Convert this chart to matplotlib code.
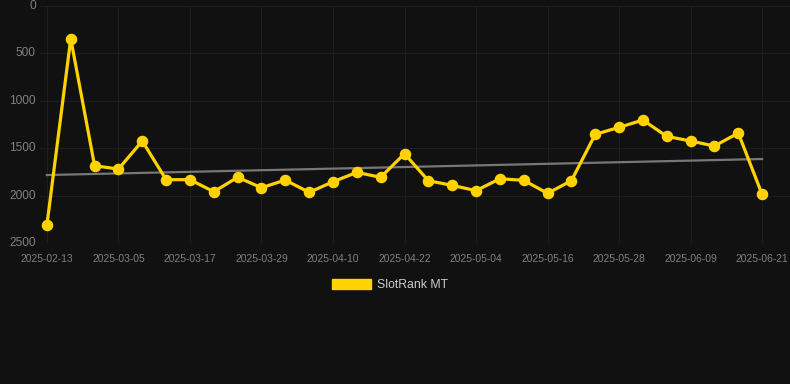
import numpy as np
import matplotlib
matplotlib.use("Agg")
import matplotlib.pyplot as plt
from matplotlib.patches import Patch

plt.rcParams["font.family"] = ["Liberation Sans", "DejaVu Sans"]

# Dates (category axis) and rank values
dates = ["2025-02-13", "2025-02-20", "2025-02-27", "2025-03-05", "2025-03-09",
         "2025-03-13", "2025-03-17", "2025-03-21", "2025-03-25", "2025-03-29",
         "2025-04-02", "2025-04-06", "2025-04-10", "2025-04-14", "2025-04-18",
         "2025-04-22", "2025-04-26", "2025-04-30", "2025-05-04", "2025-05-08",
         "2025-05-12", "2025-05-16", "2025-05-20", "2025-05-24", "2025-05-28",
         "2025-06-01", "2025-06-05", "2025-06-09", "2025-06-13", "2025-06-17",
         "2025-06-21"]
rank = [2310, 345, 1685, 1720, 1424, 1832, 1832, 1959, 1807, 1917,
        1836, 1966, 1854, 1755, 1807, 1558, 1843, 1892, 1948, 1822,
        1839, 1976, 1843, 1354, 1280, 1203, 1375, 1424, 1477, 1340,
        1987]
trend = [1783, 1614]  # trend line value at first and last date
series_name = "SlotRank MT"

BG = "#111111"
GOLD = "#FFD200"

fig = plt.figure(figsize=(7.9, 3.84), dpi=100, facecolor=BG)
ax = fig.add_axes([40 / 790, 1 - 243 / 384, 750 / 790, 237 / 384], facecolor=BG)

x = np.arange(len(rank))
ax.plot([x[0], x[-1]], trend, color="#777777", lw=1.6, zorder=2)
ax.plot(x, rank, color=GOLD, lw=2.3, marker="o", ms=7.3,
        solid_joinstyle="miter", zorder=3)

ax.set_ylim(2500, 0)
ax.set_xlim(-0.29, 31.17)
ax.set_yticks([0, 500, 1000, 1500, 2000, 2500])
ax.set_xticks(x[::3])
ax.set_xticklabels(dates[::3])

ax.grid(True, color="#1e1e1e", lw=0.8)
for s in ax.spines.values():
    s.set_visible(False)
ax.tick_params(axis="both", length=0, colors="#808080")
ax.tick_params(axis="y", labelsize=8.6, pad=3)
ax.tick_params(axis="x", labelsize=7.4, pad=8)
for lab in ax.get_yticklabels():
    lab.set_verticalalignment("center")

handle = Patch(facecolor=GOLD, edgecolor=GOLD)
leg = fig.legend([handle], [series_name], loc="center",
                 bbox_to_anchor=(390 / 790, 1 - 285 / 384),
                 frameon=False, fontsize=8.8, handlelength=3.2,
                 handleheight=0.9, handletextpad=0.5)
for t in leg.get_texts():
    t.set_color("#cccccc")

fig.savefig("out.png", dpi=100, facecolor=BG)
